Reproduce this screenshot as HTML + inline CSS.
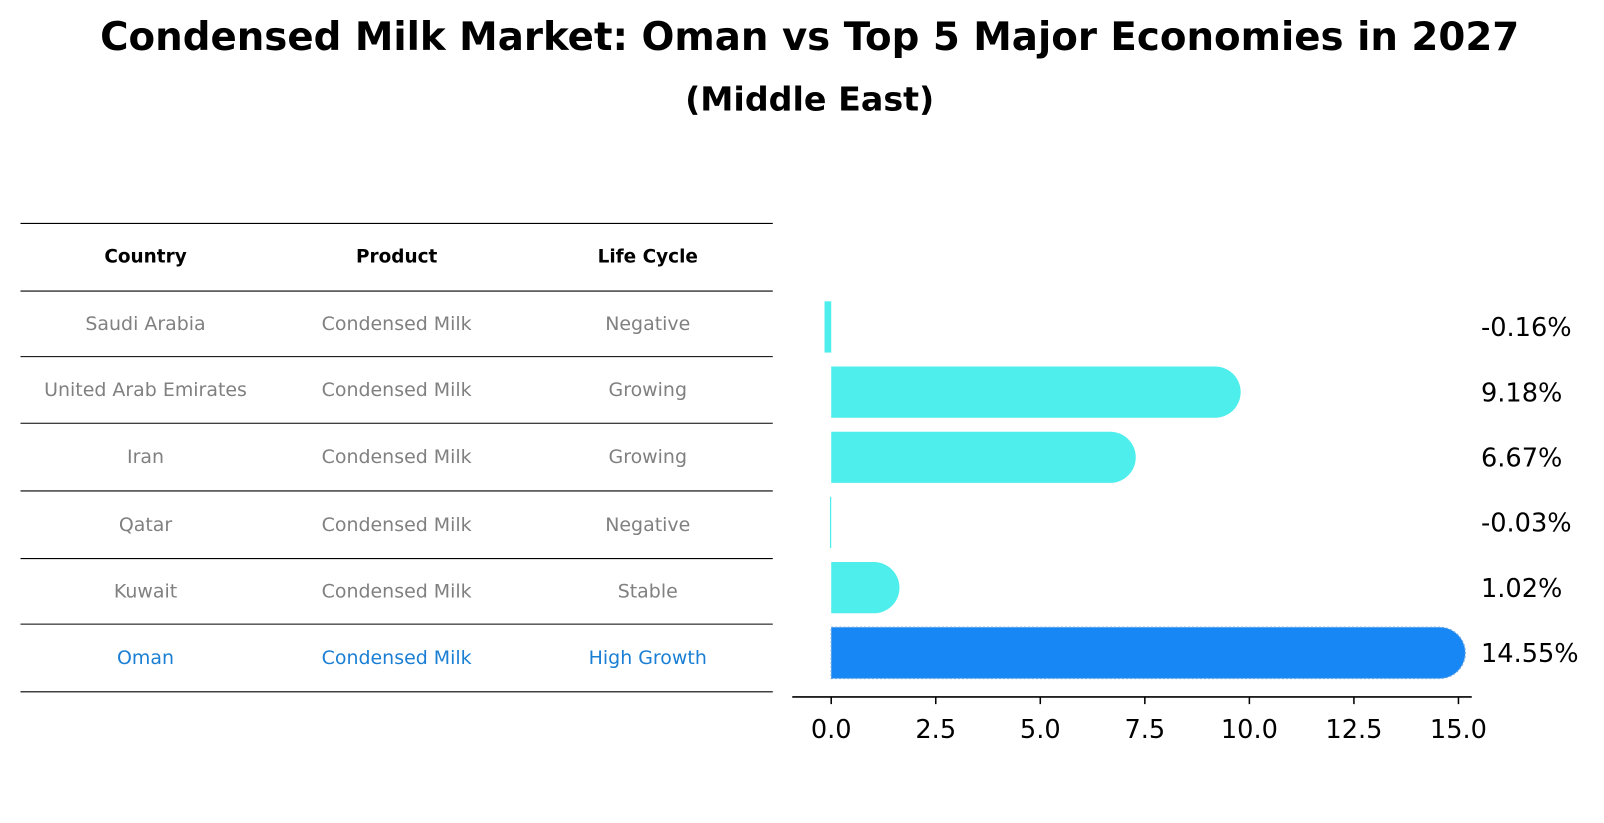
<!DOCTYPE html>
<html><head><meta charset="utf-8">
<style>
body{margin:0;background:#fff;font-family:"Liberation Sans","DejaVu Sans",sans-serif;}
#wrap{position:relative;width:1604px;height:823px;overflow:hidden;}
</style></head>
<body>
<div id="wrap">
<svg id="svg" width="1604" height="823" viewBox="0 0 1565 803" preserveAspectRatio="none" xmlns="http://www.w3.org/2000/svg">
<text x="790" y="49" text-anchor="middle" font-family="DejaVu Sans,Liberation Sans,sans-serif" font-weight="bold" font-size="37.8">Condensed Milk Market: Oman vs Top 5 Major Economies in 2027</text>
<text x="790" y="108" text-anchor="middle" font-family="DejaVu Sans,Liberation Sans,sans-serif" font-weight="bold" font-size="32.5">(Middle East)</text>
<g id="table"></g>
<g id="bars"></g>
</svg>
</div>
<script>
const countries=["Saudi Arabia","United Arab Emirates","Iran","Qatar","Kuwait","Oman"];
const products=["Condensed Milk","Condensed Milk","Condensed Milk","Condensed Milk","Condensed Milk","Condensed Milk"];
const lifeCycles=["Negative","Growing","Growing","Negative","Stable","High Growth"];
const values=[-0.16,9.18,6.67,-0.03,1.02,14.55];
const valueLabels=["-0.16%","9.18%","6.67%","-0.03%","1.02%","14.55%"];
const xTicks=[0,2.5,5,7.5,10,12.5,15];
const xTickLabels=["0.0","2.5","5.0","7.5","10.0","12.5","15.0"];

const NS="http://www.w3.org/2000/svg";
function mk(tag,attrs,parent,txt){const e=document.createElementNS(NS,tag);for(const k in attrs)e.setAttribute(k,attrs[k]);if(txt!==undefined)e.textContent=txt;parent.appendChild(e);return e;}
const F="DejaVu Sans,Liberation Sans,sans-serif";
const tb=document.getElementById('table');
const lines=[218,284,348,413,479,545,609,675];
lines.forEach(y=>{const l=mk('line',{x1:20,x2:754,y1:y,y2:y,stroke:'#000','stroke-width':1},tb);

});
const colX=[142,387,632];
["Country","Product","Life Cycle"].forEach((h,i)=>{const t=mk('text',{x:colX[i],y:256,'text-anchor':'middle','font-family':F,'font-weight':'bold','font-size':18},tb,h);

});
countries.forEach((c,r)=>{const y=(lines[r+1]+lines[r+2])/2+6;const col=r===countries.length-1?'#1a7fd4':'#808080';
[c,products[r],lifeCycles[r]].forEach((v,i)=>{const t=mk('text',{x:colX[i],y:y,'text-anchor':'middle','font-family':F,'font-size':18.5,fill:col},tb,v);

});});
const g=document.getElementById('bars');
const x0=811,ppu=(1423-811)/15;
const xs=v=>x0+v*ppu;
const rowY=i=>319+i*63.6;
const h=50,r=25;
values.forEach((v,i)=>{const cy=rowY(i),top=cy-h/2;const isO=i===values.length-1;const fill=isO?'#1787f5':'#4deeeb';
let el;
if(v>=0){const xe=xs(v);
el=mk('path',{d:`M${x0},${top} H${xe} A${r},${r} 0 0 1 ${xe},${top+h} H${x0} Z`,fill:fill},g);
if(isO){el.setAttribute('stroke','#6fa8e0');el.setAttribute('stroke-dasharray','2,2');el.setAttribute('stroke-width','1.2');}}
else{const xe=xs(v);el=mk('rect',{x:xe,y:top,width:Math.max(x0-xe,1),height:h,fill:fill},g);}


const t=mk('text',{x:1445,y:cy+9,'font-family':F,'font-size':25},g,valueLabels[i]);

});
const ax=mk('line',{x1:773,x2:1436,y1:680,y2:680,stroke:'#000','stroke-width':1.5},g);


xTicks.forEach((t,i)=>{const x=xs(t);const tk=mk('line',{x1:x,x2:x,y1:680,y2:687,stroke:'#000','stroke-width':1.5},g);


const lb=mk('text',{x:x,y:720,'text-anchor':'middle','font-family':F,'font-size':25},g,xTickLabels[i]);

});
</script>
</body></html>
